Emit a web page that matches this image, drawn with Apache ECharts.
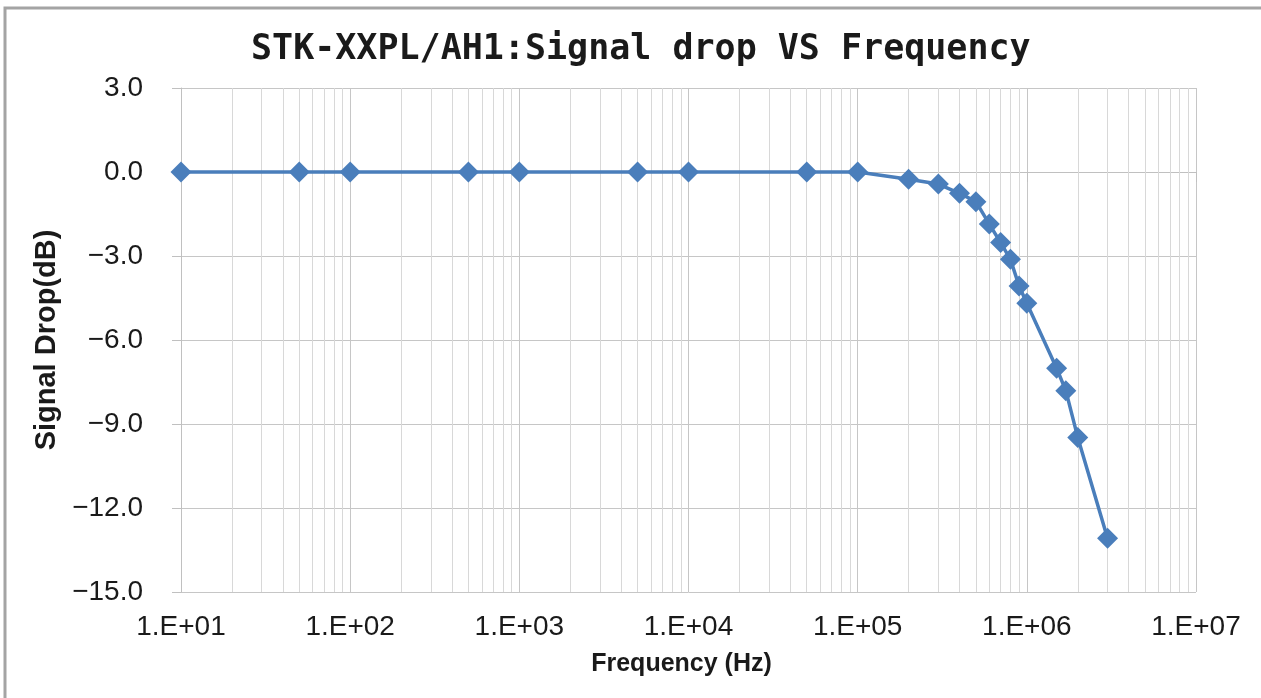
<!DOCTYPE html>
<html>
<head>
<meta charset="utf-8">
<script src="https://cdn.jsdelivr.net/npm/echarts@6/dist/echarts.min.js"></script>
<style>
  html, body { margin: 0; padding: 0; background: #ffffff; }
  #chart { width: 1261px; height: 698px; }
</style>
</head>
<body>
<div id="chart"></div>
<script>
// Measured frequency response of the STK-XXPL/AH1
const frequencies = [10, 50, 100, 500, 1000, 5000, 10000, 50000, 100000,
  200000, 300000, 400000, 500000, 600000, 700000, 800000, 900000, 1000000,
  1500000, 1700000, 2000000, 3000000];
const signalDrop = [0, 0, 0, 0, 0, 0, 0, 0, 0,
  -0.26, -0.43, -0.76, -1.06, -1.86, -2.52, -3.12, -4.07, -4.69,
  -7.01, -7.81, -9.48, -13.08];

const titleText = 'STK-XXPL/AH1:Signal drop VS Frequency';
const xAxisTitle = 'Frequency (Hz)';
const yAxisTitle = 'Signal Drop(dB)';
const freqMin = 10, freqMax = 1e7;
const dropMin = -15, dropMax = 3, dropStep = 3;

// Intermediate log grid lines (2..9 within each decade)
const minorGrid = [];
for (let d = freqMin; d < freqMax; d *= 10) {
  for (let m = 2; m <= 9; m++) minorGrid.push({ xAxis: m * d });
}

const points = frequencies.map((f, i) => [f, signalDrop[i]]);

const chart = echarts.init(document.getElementById('chart'));
chart.setOption({
  backgroundColor: '#ffffff',
  animation: false,
  title: {
    text: titleText,
    left: 246,
    top: 27,
    textStyle: {
      fontFamily: 'DejaVu Sans Mono',
      fontWeight: 'bold',
      fontSize: 35,
      color: '#1a1a1a'
    }
  },
  graphic: [{
    type: 'rect',
    shape: { x: 5, y: 8, width: 1400, height: 800 },
    style: { fill: 'none', stroke: '#a4a4a4', lineWidth: 3 },
    silent: true,
    z: 100
  }],
  grid: { left: 181, top: 88, right: 65, bottom: 106, containLabel: false },
  xAxis: {
    type: 'log',
    logBase: 10,
    min: freqMin,
    max: freqMax,
    splitNumber: 6,
    name: xAxisTitle,
    nameLocation: 'middle',
    nameGap: 60,
    nameTextStyle: {
      fontFamily: 'Liberation Sans',
      fontWeight: 'bold',
      fontSize: 25,
      color: '#1a1a1a',
      padding: [0, 14, 0, 0]
    },
    axisLine: { show: true, lineStyle: { color: '#c0c0c0', width: 1 } },
    axisTick: { show: true, inside: false, length: 10, lineStyle: { color: '#c0c0c0' } },
    splitLine: { show: true, lineStyle: { color: '#c6c6c6', width: 1 } },
    axisLabel: {
      margin: 21,
      fontFamily: 'Liberation Sans',
      fontSize: 28,
      color: '#1a1a1a',
      formatter: v => {
        const e = Math.round(Math.log10(v));
        return '1.E+' + (e < 10 ? '0' + e : String(e));
      }
    }
  },
  yAxis: {
    type: 'value',
    min: dropMin,
    max: dropMax,
    interval: dropStep,
    name: yAxisTitle,
    nameLocation: 'middle',
    nameGap: 118,
    nameTextStyle: {
      fontFamily: 'Liberation Sans',
      fontWeight: 'bold',
      fontSize: 29,
      color: '#1a1a1a'
    },
    axisLine: { show: true, lineStyle: { color: '#c0c0c0', width: 1 } },
    axisTick: { show: true, inside: false, length: 9, lineStyle: { color: '#c0c0c0' } },
    splitLine: { show: true, lineStyle: { color: '#c6c6c6', width: 1 } },
    axisLabel: {
      margin: 38,
      fontFamily: 'Liberation Sans',
      fontSize: 28,
      color: '#1a1a1a',
      formatter: v => (v < 0 ? '\u2212' : '') + Math.abs(v).toFixed(1)
    }
  },
  series: [
    {
      // carries the intermediate vertical grid lines
      type: 'line',
      data: [],
      z: 1,
      silent: true,
      markLine: {
        silent: true,
        symbol: ['none', 'none'],
        label: { show: false },
        lineStyle: { color: '#d8d8d8', width: 1, type: 'solid' },
        data: minorGrid
      }
    },
    {
      type: 'line',
      data: points,
      z: 5,
      symbol: 'diamond',
      symbolSize: 21,
      lineStyle: { color: '#4a7ebb', width: 3.5 },
      itemStyle: { color: '#4a7ebb', borderWidth: 0 }
    }
  ]
});
</script>
</body>
</html>
